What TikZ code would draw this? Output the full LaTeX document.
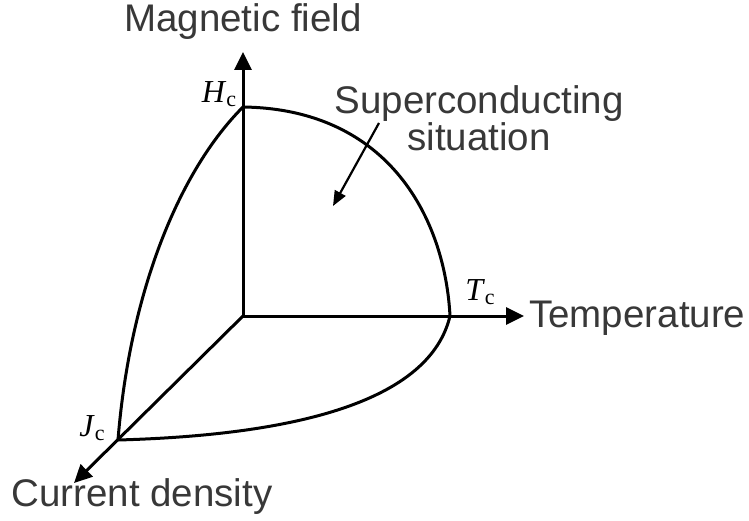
\documentclass[tikz,border=0pt]{standalone}
\usepackage{fontspec}
\setmainfont{Liberation Sans}
\newfontfamily\symfont{Liberation Serif}
\usetikzlibrary{arrows.meta,positioning}
\definecolor{textgray}{HTML}{383838}

\begin{document}
\begin{tikzpicture}[
  x=1pt,y=-1pt,
  axis/.style={-{Triangle[length=18pt,width=17pt]},line width=3pt,draw=black},
  phase/.style={line width=3pt,draw=black},
  pointer/.style={-{Triangle[length=15pt,width=12pt]},line width=2.2pt,draw=black},
  lbl/.style={font=\fontsize{38.5}{37}\selectfont,text=textgray,inner sep=0pt},
  crit/.style={font=\symfont\fontsize{32}{34}\selectfont,inner sep=0pt},
]
\useasboundingbox (0,0) rectangle (749,521);
% axes
\coordinate (o) at (243,316);
\coordinate (hc) at (243,107);
\coordinate (tc) at (450,316);
\coordinate (jc) at (118,440);
\coordinate (ytip) at (243,52);
\coordinate (xtip) at (524,316);
\coordinate (ztip) at (74,483);
\draw[axis] (o) -- (ytip);
\draw[axis] (o) -- (xtip);
\draw[axis] (o) -- (ztip);
% boundary of the superconducting region
\draw[phase] (hc) .. controls (390,109) and (445,220) .. (tc);
\draw[phase] (hc) .. controls (180,170) and (130,290) .. (jc);
\draw[phase] (jc) .. controls (300,435) and (430,400) .. (tc);
% labels
\node[lbl] (mf) at (243,22) {Magnetic field};
\node[lbl,anchor=west] (temp) at (529,318) {Temperature};
\node[lbl] (cd) at (142,497) {Current density};
\node[lbl,align=center] (sc) at (479,118) {Superconducting\\situation};
\node[crit] (hcl) at (219,94) {\textit{H}\raisebox{-0.3ex}{\fontsize{22}{24}\selectfont c}};
\node[crit] (tcl) at (480,292) {\textit{T}\raisebox{-0.3ex}{\fontsize{22}{24}\selectfont c}};
\node[crit] (jcl) at (92,428) {\textit{J}\raisebox{-0.3ex}{\fontsize{22}{24}\selectfont c}};
\coordinate (ptr) at (379,123);
\coordinate (ptrend) at (333,206);
\draw[pointer] (ptr) -- (ptrend);
\end{tikzpicture}
\end{document}
